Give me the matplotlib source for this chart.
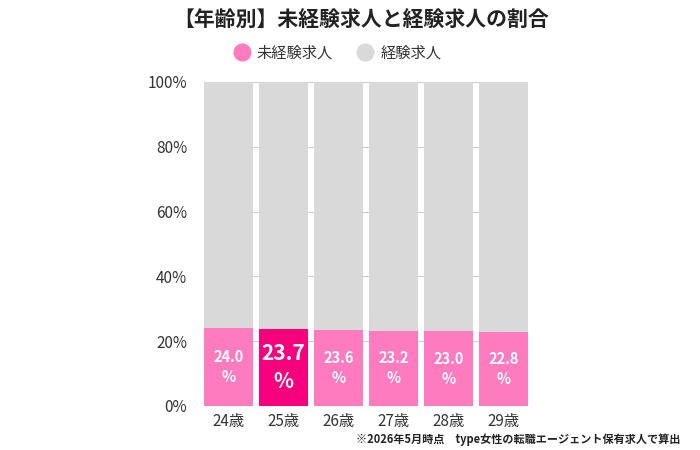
import matplotlib
matplotlib.use("Agg")
import matplotlib.pyplot as plt
from matplotlib.lines import Line2D

plt.rcParams['font.family'] = ['Noto Sans CJK JP', 'DejaVu Sans']

categories = ["24歳", "25歳", "26歳", "27歳", "28歳", "29歳"]
inexperienced = [24.0, 23.7, 23.6, 23.2, 23.0, 22.8]
experienced = [100 - v for v in inexperienced]
highlight_index = 1
yticks = [0, 20, 40, 60, 80, 100]

PINK = "#FF7BBF"
HOT = "#F5007D"
GRAY = "#D9D9D9"

fig = plt.figure(figsize=(7, 4.5), dpi=100)
ax = fig.add_axes([204/700, 1-406/450, 324/700, 324/450])

x = list(range(len(categories)))
colors = [HOT if i == highlight_index else PINK for i in x]
ax.bar(x, inexperienced, width=0.9, color=colors, zorder=2)
ax.bar(x, experienced, width=0.9, bottom=inexperienced, color=GRAY, zorder=2)

for i, v in enumerate(inexperienced):
    if i == highlight_index:
        ax.text(i, v/2, f"{v:.1f}\n%", ha="center", va="center", color="white",
                fontsize=15, fontweight="bold", linespacing=1.45, zorder=3)
    else:
        ax.text(i, v/2, f"{v:.1f}\n%", ha="center", va="center", color="white",
                fontsize=10.5, fontweight="bold", linespacing=1.3, zorder=3)

ax.set_xlim(-0.45, len(categories) - 0.55)
ax.set_ylim(0, 100)
ax.set_yticks(yticks)
ax.set_yticklabels([f"{t}%" for t in yticks])
ax.set_xticks(x)
ax.set_xticklabels(categories)
ax.tick_params(axis="both", length=0, labelsize=11, colors="#333333")
ax.tick_params(axis="y", pad=12)
ax.tick_params(axis="x", pad=5)
ax.yaxis.grid(True, color="#CCCCCC", linewidth=0.8, zorder=0)
ax.set_axisbelow(True)
for s in ax.spines.values():
    s.set_visible(False)

fig.text(361/700, 1-20/450, "【年齢別】未経験求人と経験求人の割合", ha="center", va="center",
         fontsize=15, fontweight="bold", color="#222222")

handles = [Line2D([0], [0], marker="o", linestyle="none", markersize=12,
                  markerfacecolor=PINK, markeredgecolor=PINK),
           Line2D([0], [0], marker="o", linestyle="none", markersize=12,
                  markerfacecolor=GRAY, markeredgecolor=GRAY)]
fig.legend(handles, ["未経験求人", "経験求人"], loc="center", bbox_to_anchor=(334/700, 1-53/450),
           ncol=2, frameon=False, fontsize=11, handletextpad=0.0, columnspacing=1.1,
           labelcolor="#333333")

fig.text(680/700, 1-440/450, "※2026年5月時点　type女性の転職エージェント保有求人で算出",
         ha="right", va="center", fontsize=8, fontweight="bold", color="#222222")

fig.savefig("out.png", dpi=100)
